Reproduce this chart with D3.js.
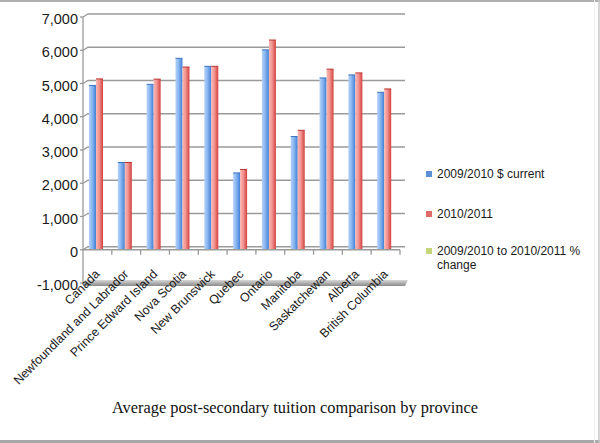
<!DOCTYPE html>
<html>
<head>
<meta charset="utf-8">
<script src="https://cdn.jsdelivr.net/npm/d3@7"></script>
<style>
  html, body { margin: 0; padding: 0; background: #fff; }
  svg { display: block; }
</style>
</head>
<body>
<svg id="chart" width="600" height="443"></svg>
<script>
// ---- data ----
const categories = ["Canada", "Newfoundland and Labrador", "Prince Edward Island", "Nova Scotia",
  "New Brunswick", "Quebec", "Ontario", "Manitoba", "Saskatchewan", "Alberta", "British Columbia"];
const seriesNames = ["2009/2010 $ current", "2010/2011", "2009/2010 to 2010/2011 % change"];
const tuition2009 = [4942, 2624, 4975, 5757, 5516, 2310, 6011, 3405, 5167, 5258, 4735];
const tuition2010 = [5138, 2624, 5131, 5495, 5516, 2415, 6307, 3593, 5431, 5318, 4836];
const pctChange   = [4.0, 0.0, 3.1, -4.6, 0.0, 4.5, 4.9, 5.5, 5.1, 1.1, 2.1];
const yTicks = [-1000, 0, 1000, 2000, 3000, 4000, 5000, 6000, 7000];
const titleText = "Average post-secondary tuition comparison by province";

const seriesValues = [tuition2009, tuition2010, pctChange];

const svg = d3.select("#chart");
const defs = svg.append("defs");

function hGrad(id, stops) {
  const g = defs.append("linearGradient").attr("id", id)
    .attr("x1", "0%").attr("x2", "100%").attr("y1", "0%").attr("y2", "0%");
  stops.forEach(([o, c]) => g.append("stop").attr("offset", o).attr("stop-color", c));
}
hGrad("gBlue", [["0%", "#b4d2fb"], ["45%", "#8ab6f0"], ["100%", "#3f7fd6"]]);
hGrad("gRed", [["0%", "#fbb9b6"], ["45%", "#f29491"], ["100%", "#d2403c"]]);
hGrad("gGreen", [["0%", "#e4efb8"], ["100%", "#a9c45a"]]);
const floorG = defs.append("linearGradient").attr("id", "gFloor")
  .attr("x1", "0%").attr("x2", "0%").attr("y1", "0%").attr("y2", "100%");
floorG.append("stop").attr("offset", "0%").attr("stop-color", "#d8d8d8");
floorG.append("stop").attr("offset", "100%").attr("stop-color", "#8a8a8a");

const fills = ["url(#gBlue)", "url(#gRed)", "url(#gGreen)"];
const edgeCols = ["#3a72c0", "#b83430", "#8ea84a"];
const legendCols = ["#5b8fd6", "#e06a66", "#c5d77a"];

// ---- scales ----
const x = d3.scaleBand().domain(categories).range([83, 400]).padding(0);
const xs = d3.scaleBand().domain(seriesNames).range([6, 27]).padding(0);
const y = d3.scaleLinear().domain([-1000, 7000]).range([283, 17]);
const depthX = 5, depthY = 3;

const font = "'Liberation Sans', Arial, sans-serif";
const fmt = v => d3.format(",")(v).replace("\u2212", "-");

// border
svg.append("line").attr("x1", 0).attr("x2", 600).attr("y1", 1).attr("y2", 1)
  .attr("stroke", "#b0b0b0").attr("stroke-width", 2);
svg.append("line").attr("x1", 0).attr("x2", 600).attr("y1", 441.5).attr("y2", 441.5)
  .attr("stroke", "#a8a8a8").attr("stroke-width", 3);
svg.append("line").attr("x1", 599).attr("x2", 599).attr("y1", 0).attr("y2", 443)
  .attr("stroke", "#c8c8c8").attr("stroke-width", 1.5);
svg.append("line").attr("x1", 594.5).attr("x2", 594.5).attr("y1", 0).attr("y2", 443)
  .attr("stroke", "#f0f0f0").attr("stroke-width", 1);

// back wall gridlines
const grid = svg.append("g");
yTicks.filter(v => v >= 0).forEach(v => {
  const yy = y(v);
  grid.append("path")
    .attr("d", `M${x.range()[0]},${yy} L${x.range()[0] + depthX},${yy - depthY} L${x.range()[1] + depthX},${yy - depthY}`)
    .attr("fill", "none").attr("stroke", "#9a9a9a").attr("stroke-width", 1.3);
});

// floor at -1000
const fy = y(-1000);
svg.append("path")
  .attr("d", `M${x.range()[0] + 2},${fy - 3} L${x.range()[1] + depthX + 3},${fy - 3} L${x.range()[1] + depthX},${fy + 3} L${x.range()[0]},${fy + 3} Z`)
  .attr("fill", "url(#gFloor)");

// left axis line
svg.append("line").attr("x1", 83).attr("x2", 83).attr("y1", y(7000)).attr("y2", y(-1000))
  .attr("stroke", "#9a9a9a").attr("stroke-width", 1.3);

// y labels and ticks
const yLab = svg.append("g");
yTicks.forEach(v => {
  yLab.append("line").attr("x1", 80).attr("x2", 83).attr("y1", y(v)).attr("y2", y(v))
    .attr("stroke", "#9a9a9a").attr("stroke-width", 1.3);
  yLab.append("text").attr("x", 78).attr("y", y(v) + 2).attr("dy", "0.35em")
    .attr("text-anchor", "end").attr("font-family", font).attr("font-size", 14.5)
    .attr("fill", "#1a1a1a").text(fmt(v));
});

// bars
const barsG = svg.append("g");
seriesValues.forEach((vals, si) => {
  barsG.selectAll(null).data(vals).enter().append("rect")
    .attr("x", (d, i) => x(categories[i]) + xs(seriesNames[si]))
    .attr("width", xs.bandwidth())
    .attr("y", d => Math.min(y(d), y(0)))
    .attr("height", d => Math.abs(y(d) - y(0)))
    .attr("fill", fills[si]);
  barsG.selectAll(null).data(vals).enter().append("line")
    .attr("x1", (d, i) => x(categories[i]) + xs(seriesNames[si]))
    .attr("x2", (d, i) => x(categories[i]) + xs(seriesNames[si]) + xs.bandwidth())
    .attr("y1", d => y(d)).attr("y2", d => y(d))
    .attr("stroke", edgeCols[si]).attr("stroke-width", d => Math.abs(y(d) - y(0)) > 2 ? 1 : 0);
});

// category axis at zero
const ax = svg.append("g");
ax.append("line").attr("x1", 83).attr("x2", 400).attr("y1", y(0)).attr("y2", y(0))
  .attr("stroke", "#9a9a9a").attr("stroke-width", 1.3);
categories.forEach((c, i) => {
  const bx = x(c) + x.bandwidth();
  ax.append("line").attr("x1", bx).attr("x2", bx).attr("y1", y(0)).attr("y2", y(0) + 5)
    .attr("stroke", "#9a9a9a").attr("stroke-width", 1.3);
});

// category labels
categories.forEach(c => {
  const cx = x(c) + x.bandwidth() / 2 + 3;
  svg.append("text")
    .attr("transform", `translate(${cx},${y(0) + 25}) rotate(-45)`)
    .attr("text-anchor", "end").attr("font-family", font).attr("font-size", 12.4)
    .attr("fill", "#1a1a1a").text(c);
});

// legend
const legend = svg.append("g");
const legendY = [174, 214, 251];
seriesNames.forEach((s, i) => {
  legend.append("rect").attr("x", 426).attr("y", legendY[i] - 3).attr("width", 6).attr("height", 6)
    .attr("fill", legendCols[i]);
  if (i === 2) {
    legend.append("text").attr("x", 437).attr("y", legendY[i] + 4)
      .attr("font-family", font).attr("font-size", 12).attr("fill", "#1a1a1a")
      .text("2009/2010 to 2010/2011 %");
    legend.append("text").attr("x", 437).attr("y", legendY[i] + 18)
      .attr("font-family", font).attr("font-size", 12).attr("fill", "#1a1a1a")
      .text("change");
  } else {
    legend.append("text").attr("x", 437).attr("y", legendY[i] + 4)
      .attr("font-family", font).attr("font-size", 12).attr("fill", "#1a1a1a").text(s);
  }
});

// title
svg.append("text").attr("x", 112).attr("y", 413)
  .attr("font-family", "'Liberation Serif', 'DejaVu Serif', serif").attr("font-size", 17)
  .attr("fill", "#111").attr("textLength", 366).attr("lengthAdjust", "spacingAndGlyphs")
  .text(titleText);
</script>
</body>
</html>
